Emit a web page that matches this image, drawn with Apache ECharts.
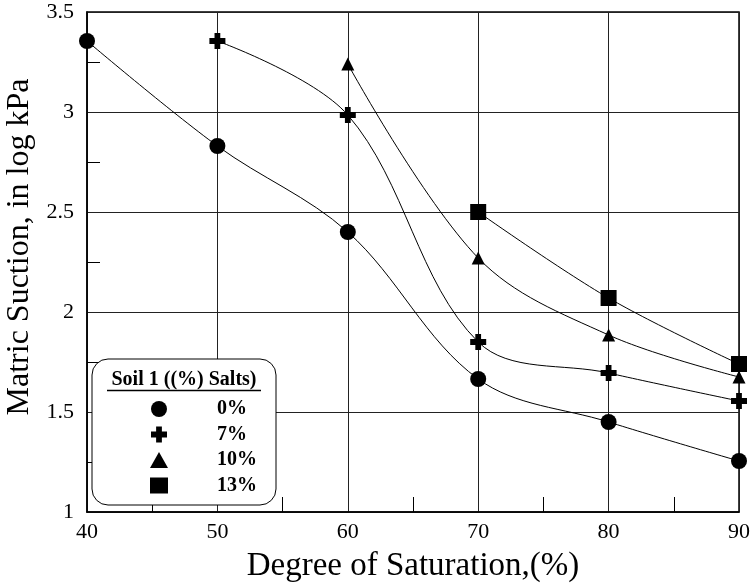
<!DOCTYPE html>
<html><head><meta charset="utf-8">
<script src="https://cdn.jsdelivr.net/npm/echarts@6/dist/echarts.min.js"></script>
<style>html,body{margin:0;padding:0;background:#fff}#c{width:751px;height:584px}</style>
</head><body><div id="c"></div>
<script>
const xCats = [40, 50, 60, 70, 80, 90];
const s0 = [[40, 3.355], [50, 2.83], [60, 2.40], [70, 1.665], [80, 1.45], [90, 1.255]];
const s7 = [[50, 3.355], [60, 2.985], [70, 1.85], [80, 1.695], [90, 1.555]];
const s10 = [[60, 3.24], [70, 2.27], [80, 1.885], [90, 1.675]];
const s13 = [[70, 2.50], [80, 2.07], [90, 1.74]];
const seriesNames = ['0%', '7%', '10%', '13%'];
const yTicks = [1, 1.5, 2, 2.5, 3, 3.5];

const FONT = 'Liberation Serif';
const plusPath = 'path://M3.2,0H6.8V3.2H10V6.8H6.8V10H3.2V6.8H0V3.2H3.2Z';
const symbols = ['circle', plusPath, 'triangle', 'rect'];
const sizes = [16, 16, 13, 16];
const datas = [s0, s7, s10, s13];

const chart = echarts.init(document.getElementById('c'));
chart.setOption({
  animation: false,
  backgroundColor: '#fff',
  grid: {left: 87, right: 12, top: 12, bottom: 72, containLabel: false, outerBoundsMode: 'none',
         show: true, borderColor: '#000', borderWidth: 1.5, backgroundColor: 'transparent'},
  xAxis: {
    type: 'value', min: 40, max: 90, interval: 10,
    name: 'Degree of Saturation,(%)', nameLocation: 'middle', nameGap: 38,
    nameTextStyle: {fontFamily: FONT, fontSize: 33, color: '#000'},
    axisLine: {lineStyle: {color: '#000', width: 1.5}},
    axisTick: {show: false},
    minorTick: {show: true, splitNumber: 2, length: -15, lineStyle: {color: '#000', width: 1}},
    axisLabel: {fontFamily: FONT, fontSize: 22, color: '#000', margin: 9},
    splitLine: {show: true, lineStyle: {color: '#222', width: 1}}
  },
  yAxis: {
    type: 'value', min: yTicks[0], max: yTicks[yTicks.length - 1], interval: 0.5,
    name: 'Matric Suction, in log kPa', nameLocation: 'middle', nameGap: 45,
    nameTextStyle: {fontFamily: FONT, fontSize: 32, color: '#000', padding: [0, 0, 0, 30]},
    axisLine: {show: true, lineStyle: {color: '#000', width: 1.5}},
    axisTick: {show: false},
    minorTick: {show: true, splitNumber: 2, length: -13, lineStyle: {color: '#000', width: 1}},
    axisLabel: {fontFamily: FONT, fontSize: 22, color: '#000', margin: 13, formatter: v => String(v)},
    splitLine: {show: true, lineStyle: {color: '#222', width: 1}}
  },
  legend: {
    orient: 'vertical', left: 145, top: 394, itemWidth: 18, itemHeight: 16, itemGap: 5.5, z: 10,
    data: seriesNames.map((n, i) => ({name: n, icon: symbols[i]})),
    itemStyle: {color: '#000'},
    textStyle: {fontFamily: FONT, fontSize: 20, fontWeight: 'bold', color: '#000', padding: [0, 0, 0, 44]}
  },
  graphic: [
    {type: 'rect', shape: {x: 92, y: 359, width: 184, height: 146, r: 16}, style: {fill: '#fff', stroke: '#000', lineWidth: 1}, z: 3},
    {type: 'text', x: 184, y: 380, style: {text: 'Soil 1 ((%) Salts)', font: 'bold 20px "Liberation Serif"', fill: '#000', align: 'center', verticalAlign: 'middle'}, z: 11},
    {type: 'line', shape: {x1: 107, y1: 390.5, x2: 261, y2: 390.5}, style: {stroke: '#000', lineWidth: 1.3}, z: 11}
  ],
  series: datas.map((d, i) => ({
    name: seriesNames[i], type: 'line', data: d, smooth: 0.35,
    symbol: symbols[i], symbolSize: sizes[i],
    itemStyle: {color: '#000'},
    lineStyle: {color: '#000', width: 1},
    z: 2
  }))
});
</script></body></html>
